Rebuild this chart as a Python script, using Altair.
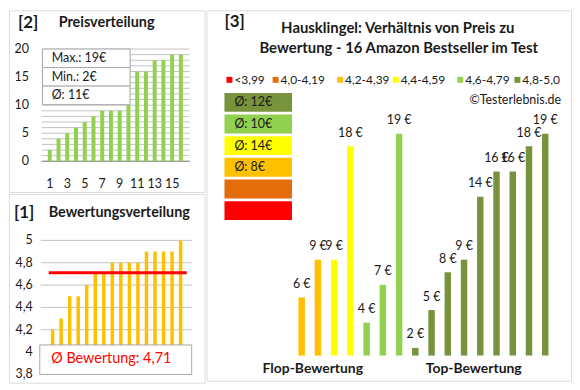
import altair as alt
import pandas as pd

# ---------------- data ----------------
price_sorted = [2, 4, 5, 6, 7, 8, 9, 9, 9, 10, 16, 16, 18, 18, 19, 19]
price_stats = ["Max.: 19€", "Min.: 2€", "Ø: 11€"]
price_ticks = [0, 5, 10, 15, 20]
price_x_ticks = [1, 3, 5, 7, 9, 11, 13, 15]

rating_sorted = [4.2, 4.3, 4.5, 4.5, 4.6, 4.7, 4.7, 4.8, 4.8, 4.8, 4.8, 4.9, 4.9, 4.9, 4.9, 5.0]
rating_avg = 4.71
rating_avg_label = "Ø Bewertung: 4,71"
rating_ticks = [3.8, 4.0, 4.2, 4.4, 4.6, 4.8, 5.0]
rating_tick_labels = ["3,8", "4", "4,2", "4,4", "4,6", "4,8", "5"]

bar_prices = [6, 9, 9, 18, 4, 7, 19, 2, 5, 8, 9, 14, 16, 16, 18, 19]
bar_classes = ["4,2-4,39", "4,2-4,39", "4,4-4,59", "4,4-4,59",
               "4,6-4,79", "4,6-4,79", "4,6-4,79"] + ["4,8-5,0"] * 9
class_names = ["<3,99", "4,0-4,19", "4,2-4,39", "4,4-4,59", "4,6-4,79", "4,8-5,0"]
class_colors = ["#FF0000", "#E46C0A", "#FFC000", "#FFFF00", "#92D050", "#77933C"]
avg_box_labels = ["Ø: 12€", "Ø: 10€", "Ø: 14€", "Ø: 8€", "", ""]
group_labels = ["Flop-Bewertung", "Top-Bewertung"]

title3_lines = ["Hausklingel: Verhältnis von Preis zu",
                "Bewertung - 16 Amazon Bestseller im Test"]
copyright_text = "©Testerlebnis.de"

# ---------------- layout ----------------
FONT = "Lato"
TXT = "#1a1a1a"
GRID = "#C4C4C4"
BORDER = "#8C8C8C"
W_LEFT, W_RIGHT = 197, 367
H_TOP, H_BOTTOM = 183, 190
H_RIGHT = H_TOP + H_BOTTOM
LEGEND_SYMBOL_X = [23, 69.5, 134.5, 190.5, 255.5, 313]   # legend layout (pixels)
LEGEND_Y = 70


def lin(va, pa, vb, pb, size, vertical=False):
    s = (pb - pa) / (vb - va)

    def v(p):
        return va + (p - pa) / s
    return [v(size), v(0)] if vertical else [v(0), v(size)]


def sc(dom):
    return alt.Scale(domain=dom, nice=False, zero=False)


def txt(s, x, y, size, bold=False, align="left", color=TXT, baseline="middle"):
    return alt.Chart(pd.DataFrame({"s": [s]})).mark_text(
        align=align, baseline=baseline, fontSize=size, font=FONT,
        fontWeight="bold" if bold else "normal", color=color
    ).encode(text="s:N", x=alt.value(x), y=alt.value(y))


# ================= Panel [2] Preisverteilung =================
xs2 = sc(lin(1, 38, 16, 177.1, W_LEFT))
ys2 = sc(lin(0, 152, 20, 39, H_TOP, vertical=True))

df2 = pd.DataFrame({"i": range(1, 17), "v": price_sorted})
grid2 = pd.DataFrame({"g": list(range(0, 21))})

p2_grid = alt.Chart(grid2).mark_rule(color=GRID, strokeWidth=1).encode(
    y=alt.Y("g:Q", scale=ys2, axis=None), x=alt.value(33), x2=alt.value(182))
p2_zero = alt.Chart(grid2[grid2.g == 0]).mark_rule(color="#868686", strokeWidth=1).encode(
    y=alt.Y("g:Q", scale=ys2, axis=None), x=alt.value(33), x2=alt.value(182))
p2_bars = alt.Chart(df2).mark_bar(color="#92D050", size=4).encode(
    x=alt.X("i:Q", scale=xs2, axis=None),
    y=alt.Y("v:Q", scale=ys2, axis=None),
    y2=alt.datum(0))

stats = pd.DataFrame({"s": price_stats, "row": range(3)})
ROW2 = 18.67
stats["y0"] = 39 + stats.row * ROW2
stats["y1"] = stats.y0 + ROW2
stats["yc"] = stats.y0 + ROW2 / 2
p2_box = alt.Chart(stats).mark_rect(fill="white", stroke="#A6A6A6", strokeWidth=1).encode(
    x=alt.value(33.7), x2=alt.value(122),
    y=alt.Y("y0:Q", scale=None), y2="y1:Q")
p2_box_txt = alt.Chart(stats).mark_text(
    align="left", baseline="middle", fontSize=12.5, font=FONT, color=TXT).encode(
    text="s:N", x=alt.value(43), y=alt.Y("yc:Q", scale=None))

p2_ylab = alt.Chart(pd.DataFrame({"t": price_ticks})).mark_text(
    align="right", baseline="middle", fontSize=12.5, font=FONT, color=TXT).encode(
    text="t:Q", x=alt.value(20), y=alt.Y("t:Q", scale=ys2, axis=None))
p2_xlab = alt.Chart(pd.DataFrame({"t": price_x_ticks})).mark_text(
    align="center", baseline="middle", fontSize=12.5, font=FONT, color=TXT).encode(
    text="t:Q", x=alt.X("t:Q", scale=xs2, axis=None), y=alt.value(174.7))

p2 = alt.layer(
    p2_grid, p2_zero, p2_bars, p2_box, p2_box_txt, p2_ylab, p2_xlab,
    txt("[2]", 9, 12.5, 17, bold=True),
    txt("Preisverteilung", 50, 12.5, 14.5, bold=True),
).properties(width=W_LEFT, height=H_TOP)

# ================= Panel [1] Bewertungsverteilung =================
xs1 = sc(lin(1, 41, 16, 176.8, W_LEFT))
ys1 = sc(lin(5.0, 46.7, 3.8, 181.7, H_BOTTOM, vertical=True))

df1 = pd.DataFrame({"i": range(1, 17), "v": rating_sorted})
ticks1 = pd.DataFrame({"t": rating_ticks, "lab": rating_tick_labels})

p1_grid = alt.Chart(ticks1).mark_rule(color=GRID, strokeWidth=1).encode(
    y=alt.Y("t:Q", scale=ys1, axis=None), x=alt.value(32), x2=alt.value(184))
p1_bars = alt.Chart(df1).mark_bar(color="#FFC000", size=3.5).encode(
    x=alt.X("i:Q", scale=xs1, axis=None),
    y=alt.Y("v:Q", scale=ys1, axis=None),
    y2=alt.datum(3.8))
p1_avg = alt.Chart(pd.DataFrame({"a": [rating_avg]})).mark_rule(
    color="#FF0000", strokeWidth=3).encode(
    y=alt.Y("a:Q", scale=ys1, axis=None), x=alt.value(40), x2=alt.value(179))
p1_box = alt.Chart(pd.DataFrame({"a": [0]})).mark_rect(
    fill="white", stroke="#A6A6A6", strokeWidth=1).encode(
    x=alt.value(31), x2=alt.value(184), y=alt.value(152), y2=alt.value(181.7))
p1_ylab = alt.Chart(ticks1).mark_text(
    align="right", baseline="middle", fontSize=12.5, font=FONT, color=TXT).encode(
    text="lab:N", x=alt.value(24), y=alt.Y("t:Q", scale=ys1, axis=None))

p1 = alt.layer(
    p1_grid, p1_bars, p1_avg, p1_box, p1_ylab,
    txt(rating_avg_label, 103, 166, 14.5, align="center", color="#FF0000"),
    txt("[1]", 5, 19, 17, bold=True),
    txt("Bewertungsverteilung", 40, 19, 14.5, bold=True),
).properties(width=W_LEFT, height=H_BOTTOM)

# ================= Panel [3] Preis vs Bewertung =================
xs3 = sc(lin(1, 93.3, 16, 345.45, W_RIGHT))
BASE3 = 1.39
ys3 = sc(lin(BASE3, 347.7, 19, 124.2, H_RIGHT, vertical=True))

df3 = pd.DataFrame({"i": range(1, 17), "p": bar_prices, "cls": bar_classes})

p3_bars = alt.Chart(df3).mark_bar(size=6.5).encode(
    x=alt.X("i:Q", scale=xs3, axis=None),
    y=alt.Y("p:Q", scale=ys3, axis=None),
    y2=alt.datum(BASE3),
    color=alt.Color("cls:N", scale=alt.Scale(domain=class_names, range=class_colors),
                    legend=None))
p3_vals = alt.Chart(df3).transform_calculate(lbl="datum.p + ' €'").mark_text(
    align="center", baseline="alphabetic", dy=-9.5, fontSize=12.5, font=FONT, color=TXT
).encode(text="lbl:N", x=alt.X("i:Q", scale=xs3, axis=None),
         y=alt.Y("p:Q", scale=ys3, axis=None))

# legend (classes of rating)
leg = pd.DataFrame({"name": class_names, "c": class_colors})
leg["lx"] = LEGEND_SYMBOL_X
leg["tx"] = leg.lx + 5
p3_leg_sym = alt.Chart(leg).mark_square(size=36, opacity=1).encode(
    x=alt.X("lx:Q", scale=None), y=alt.value(LEGEND_Y),
    color=alt.Color("c:N", scale=None))
p3_leg_txt = alt.Chart(leg).mark_text(
    align="left", baseline="middle", fontSize=12, font=FONT, color=TXT).encode(
    text="name:N", x=alt.X("tx:Q", scale=None), y=alt.value(LEGEND_Y))

avg = pd.DataFrame({"s": avg_box_labels, "c": class_colors[::-1], "row": range(6)})
avg["yc"] = 92.7 + avg.row * 21.8
avg["y0"] = avg.yc - 9.5
avg["y1"] = avg.yc + 9.5
p3_avg = alt.Chart(avg).mark_rect().encode(
    x=alt.value(18), x2=alt.value(86),
    y=alt.Y("y0:Q", scale=None), y2="y1:Q",
    color=alt.Color("c:N", scale=None))
p3_avg_txt = alt.Chart(avg).mark_text(
    align="left", baseline="middle", fontSize=12.5, font=FONT, color=TXT).encode(
    text="s:N", x=alt.value(28), y=alt.Y("yc:Q", scale=None))

p3 = alt.layer(
    p3_avg, p3_avg_txt, p3_bars, p3_vals, p3_leg_sym, p3_leg_txt,
    txt("[3]", 18, 12, 17, bold=True),
    txt(title3_lines[0], 192.5, 18, 15, bold=True, align="center"),
    txt(title3_lines[1], 193.5, 38, 15, bold=True, align="center"),
    txt(copyright_text, 357, 90, 12.5, align="right"),
    txt(group_labels[0], 107, 361, 14, bold=True, align="center"),
    txt(group_labels[1], 269, 361, 14, bold=True, align="center"),
).properties(width=W_RIGHT, height=H_RIGHT)

left = alt.vconcat(p2, p1, spacing=0)
chart = alt.hconcat(left, p3, spacing=0).properties(
    padding=0
).configure_view(stroke=BORDER, strokeWidth=1).configure(font=FONT)

chart.save("out.html", embed_options={"renderer": "svg", "actions": False})
